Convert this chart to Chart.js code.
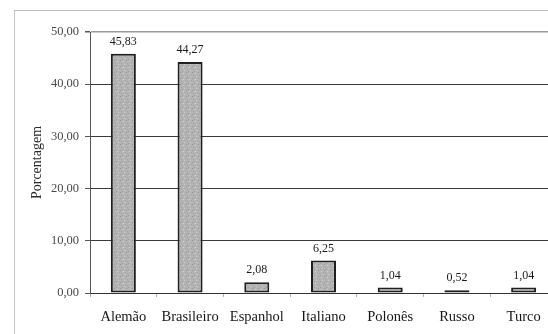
<!DOCTYPE html>
<html lang="pt">
<head>
  <meta charset="UTF-8">
  <title>Porcentagem por origem</title>
  <script src="https://cdn.jsdelivr.net/npm/chart.js"></script>
  <style>
    html, body { margin: 0; padding: 0; background: #fff; overflow: hidden; }
    #wrap { position: relative; width: 548px; height: 334px; overflow: hidden; }
    #frame {
      position: absolute; left: 14px; top: 10px; width: 560px; height: 360px;
      border-left: 1px solid #c4c4c4; border-top: 1px solid #bdbdbd;
    }
    #chart { position: absolute; left: 0; top: 0; }
  </style>
</head>
<body>
  <div id="wrap">
    <div id="frame"></div>
    <canvas id="chart" width="560" height="334"></canvas>
  </div>

  <script>
    // data
    const categories = ['Alemão', 'Brasileiro', 'Espanhol', 'Italiano', 'Polonês', 'Russo', 'Turco'];
    const percentages = [45.83, 44.27, 2.08, 6.25, 1.04, 0.52, 1.04];
    const yTicks = [0, 10, 20, 30, 40, 50];

    const fmt = v => v.toFixed(2).replace('.', ',');

    // stippled gray fill, like the scanned bars
    function makePattern() {
      const c = document.createElement('canvas');
      c.width = 6; c.height = 6;
      const g = c.getContext('2d');
      g.fillStyle = '#b4b4b4';
      g.fillRect(0, 0, 6, 6);
      const dots = [[0,0,'#969696'],[3,1,'#d2d2d2'],[1,3,'#a2a2a2'],[4,4,'#cacaca'],[2,5,'#9c9c9c'],[5,2,'#a6a6a6']];
      dots.forEach(d => { g.fillStyle = d[2]; g.fillRect(d[0], d[1], 1, 1); });
      return g.createPattern(c, 'repeat');
    }

    // values over the bars
    const valueLabels = {
      id: 'valueLabels',
      afterDatasetsDraw(chart) {
        const ctx = chart.ctx;
        const meta = chart.getDatasetMeta(0);
        ctx.save();
        ctx.font = '12px "Liberation Serif", serif';
        ctx.fillStyle = '#1a1a1a';
        ctx.textAlign = 'center';
        ctx.textBaseline = 'bottom';
        meta.data.forEach((bar, i) => {
          ctx.fillText(fmt(percentages[i]), bar.x, bar.y - 6);
        });
        ctx.restore();
      }
    };

    const ctx = document.getElementById('chart').getContext('2d');
    new Chart(ctx, {
      type: 'bar',
      data: {
        labels: categories,
        datasets: [{
          data: percentages,
          backgroundColor: makePattern(),
          borderColor: '#1e1e1e',
          borderWidth: 2,
          borderSkipped: false,
          categoryPercentage: 1,
          barPercentage: 0.375
        }]
      },
      options: {
        responsive: false,
        animation: false,
        devicePixelRatio: 1,
        layout: { padding: { left: 20, top: 32, right: 3, bottom: 0 } },
        plugins: { legend: { display: false }, tooltip: { enabled: false } },
        scales: {
          x: {
            grid: {
              offset: true,
              drawOnChartArea: false,
              tickLength: 4,
              color: '#b0b0b0'
            },
            border: { color: '#333', width: 1 },
            ticks: {
              padding: 11,
              color: '#161616',
              font: { family: '"Liberation Serif", serif', size: 14.5 }
            },
            afterFit(scale) { scale.height = 41; }
          },
          y: {
            min: 0,
            max: 50,
            afterBuildTicks(scale) { scale.ticks = yTicks.map(v => ({ value: v })); },
            grid: {
              color: c => c.tick && c.tick.value === 50 ? '#9a9a9a' : '#3a3a3a',
              lineWidth: c => c.tick && c.tick.value === 50 ? 1.5 : 1,
              tickLength: 5,
              tickColor: '#555'
            },
            border: { color: '#555', width: 1 },
            ticks: {
              padding: 6,
              color: '#4a4a4a',
              font: { family: '"Liberation Serif", serif', size: 12.5 },
              callback: v => fmt(v)
            },
            title: {
              display: true,
              text: 'Porcentagem',
              color: '#2a2a2a',
              padding: { top: 9, bottom: 0 },
              font: { family: '"Liberation Serif", serif', size: 14 }
            },
            afterFit(scale) { scale.width = 70; }
          }
        }
      },
      plugins: [valueLabels]
    });
  </script>
</body>
</html>
